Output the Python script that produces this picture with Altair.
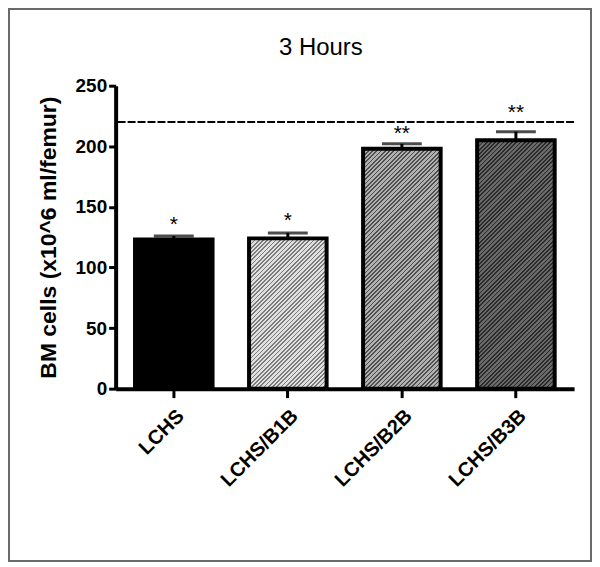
import altair as alt
import pandas as pd

# ---- data ----
groups = ["LCHS", "LCHS/B1B", "LCHS/B2B", "LCHS/B3B"]
means = [123, 124, 198, 205]
errors = [3, 4.5, 4, 7]
stars = ["*", "*", "**", "**"]
star_y = [138, 142, 213, 231]
ref_line = [220]
y_ticks = [0, 50, 100, 150, 200, 250]
chart_title = ["3 Hours"]

df = pd.DataFrame({"group": groups, "mean": means, "err": errors,
                   "star": stars, "star_y": star_y})
df["upper"] = df["mean"] + df["err"]

# ---- layout ----
W, H = 460, 304
PAD_IN, PAD_OUT = 0.32, 0.17
FONT = "Liberation Sans"
YTITLE = "BM cells (x10^6 ml/femur)"
step = W / (len(groups) - PAD_IN + 2 * PAD_OUT)
bw = step * (1 - PAD_IN)

# fill style per bar: (background, stripe) ; None => solid black
styles = {
    "LCHS": None,
    "LCHS/B1B": ("#e0e0e0", "#7c7c7c"),
    "LCHS/B2B": ("#b0b0b0", "#505050"),
    "LCHS/B3B": ("#6a6a6a", "#2a2a2a"),
}


def hatch(bg, fg, w, h, period=3.0, frac=0.42):
    a = w / h
    s = (a + 1) / (a * a + 1)
    n = max(1, int(round((w + h) / (2 ** 0.5 * period))))
    stops = []
    for k in range(n):
        o0 = round(k / n, 5)
        o1 = round((k + 1 - frac) / n, 5)
        o2 = round((k + 1) / n, 5)
        stops += [
            {"offset": o0, "color": bg},
            {"offset": o1, "color": bg},
            {"offset": o1, "color": fg},
            {"offset": o2, "color": fg},
        ]
    return {"gradient": "linear", "x1": 0, "y1": 0, "x2": a * s, "y2": s, "stops": stops}


xs = alt.Scale(domain=groups, paddingInner=PAD_IN, paddingOuter=PAD_OUT)
ys = alt.Scale(domain=[0, 250], nice=False, zero=True)

x_enc = alt.X(
    "group:N", scale=xs, sort=groups, title=None,
    axis=alt.Axis(labelAngle=-45, labelFont=FONT, labelFontSize=20,
                  labelFontWeight="bold", labelColor="black",
                  domainColor="black", domainWidth=4, tickColor="black",
                  tickWidth=3, tickSize=9, labelPadding=8),
)


def y_enc(field):
    return alt.Y(
        field, scale=ys, title=YTITLE,
        axis=alt.Axis(values=y_ticks, grid=False, labelFont=FONT,
                      labelFontSize=19, labelFontWeight="bold",
                      labelColor="black", domainColor="black",
                      domainWidth=4, tickColor="black", tickWidth=3,
                      tickSize=7, labelPadding=2, titleFont=FONT,
                      titleFontSize=23, titleFontWeight="bold",
                      titleColor="black", titlePadding=15),
    )


base = alt.Chart(df)

frame = alt.Chart(pd.DataFrame({"k": [0]})).mark_rect(
    fillOpacity=0, stroke="#6a6a6a", strokeWidth=2
).encode(
    x=alt.value(-107), x2=alt.value(477), y=alt.value(-77), y2=alt.value(477)
)

title_txt = alt.Chart(pd.DataFrame({"t": chart_title})).mark_text(
    font=FONT, fontSize=24, color="black", baseline="middle", align="center"
).encode(text="t:N", x=alt.value(206), y=alt.value(-38))

layers = [frame, title_txt]
for g in groups:
    st = styles[g]
    if st is None:
        fill = "black"
    else:
        h = means[groups.index(g)] * H / 250
        fill = hatch(st[0], st[1], bw, h)
    layers.append(
        base.transform_filter(alt.datum.group == g)
        .mark_bar(fill=fill, stroke="black", strokeWidth=4)
        .encode(x=x_enc, y=y_enc("mean:Q"))
    )

err_line = base.mark_rule(color="black", strokeWidth=3).encode(
    x=x_enc, y=y_enc("mean:Q"), y2="upper:Q"
)
err_cap = base.mark_tick(color="black", thickness=3, size=40).encode(
    x=x_enc, y=y_enc("upper:Q")
)
star_txt = base.mark_text(font=FONT, fontSize=21, color="black",
                          baseline="middle", dy=4).encode(
    x=x_enc, y=y_enc("star_y:Q"), text="star:N"
)
dash = alt.Chart(pd.DataFrame({"v": ref_line})).mark_rule(
    color="black", strokeWidth=2, strokeDash=[8, 2]
).encode(y=y_enc("v:Q"))

layers += [err_line, err_cap, star_txt, dash]

chart = alt.layer(*layers).properties(
    width=W, height=H,
    autosize=alt.AutoSizeParams(type="none"),
    padding={"left": 108, "top": 77, "right": 18, "bottom": 174},
).configure_view(strokeWidth=0)

chart.save("out.html", embed_options={"renderer": "svg", "actions": False})
